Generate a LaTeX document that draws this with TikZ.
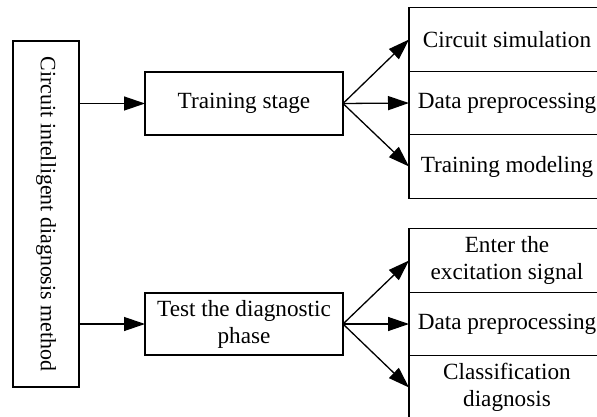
\documentclass[tikz,border=0pt]{standalone}
\usepackage{fontspec}
\setmainfont{Liberation Serif}
\usetikzlibrary{arrows.meta}
\begin{document}
\begin{tikzpicture}[x=0.5pt,y=-0.5pt,
  box/.style={draw,line width=0.65pt,inner sep=0pt,outer sep=0pt,align=center,
    font=\fontsize{11.6}{13.5}\selectfont},
  midbox/.style={box,minimum width=99pt,minimum height=31.5pt},
  rbox/.style={box,minimum width=98pt,minimum height=31.75pt},
  arr/.style={-{Triangle[length=10.5pt,width=7pt]},line width=0.65pt}]
\clip (0,0) rectangle (597,416);
\useasboundingbox (0,0) rectangle (597,416);
\node[box,rotate=-90,minimum width=173pt,minimum height=33pt,font=\fontsize{10.95}{13}\selectfont] (left) at (46,214) {Circuit intelligent diagnosis method};
\node[midbox] (train) at (244,103.5) {Training stage};
\node[midbox,minimum height=31pt] (test) at (244,324) {Test the diagnostic\\phase};
\node[rbox] (r1) at (507,39.5) {Circuit simulation};
\node[rbox] (r2) at (507,103) {Data preprocessing};
\node[rbox] (r3) at (507,166.5) {Training modeling};
\node[rbox] (s1) at (507,260.5) {Enter the\\excitation signal};
\node[rbox] (s2) at (507,324) {Data preprocessing};
\node[rbox] (s3) at (507,387.5) {Classification\\diagnosis};
\draw[arr] (train.west -| left.north) -- (train.west);
\draw[arr] (test.west -| left.north) -- (test.west);
\draw[arr] (train.east) -- (r1.west);
\draw[arr] (train.east) -- (r2.west);
\draw[arr] (train.east) -- (r3.west);
\draw[arr] (test.east) -- (s1.west);
\draw[arr] (test.east) -- (s2.west);
\draw[arr] (test.east) -- (s3.west);
\end{tikzpicture}
\end{document}
